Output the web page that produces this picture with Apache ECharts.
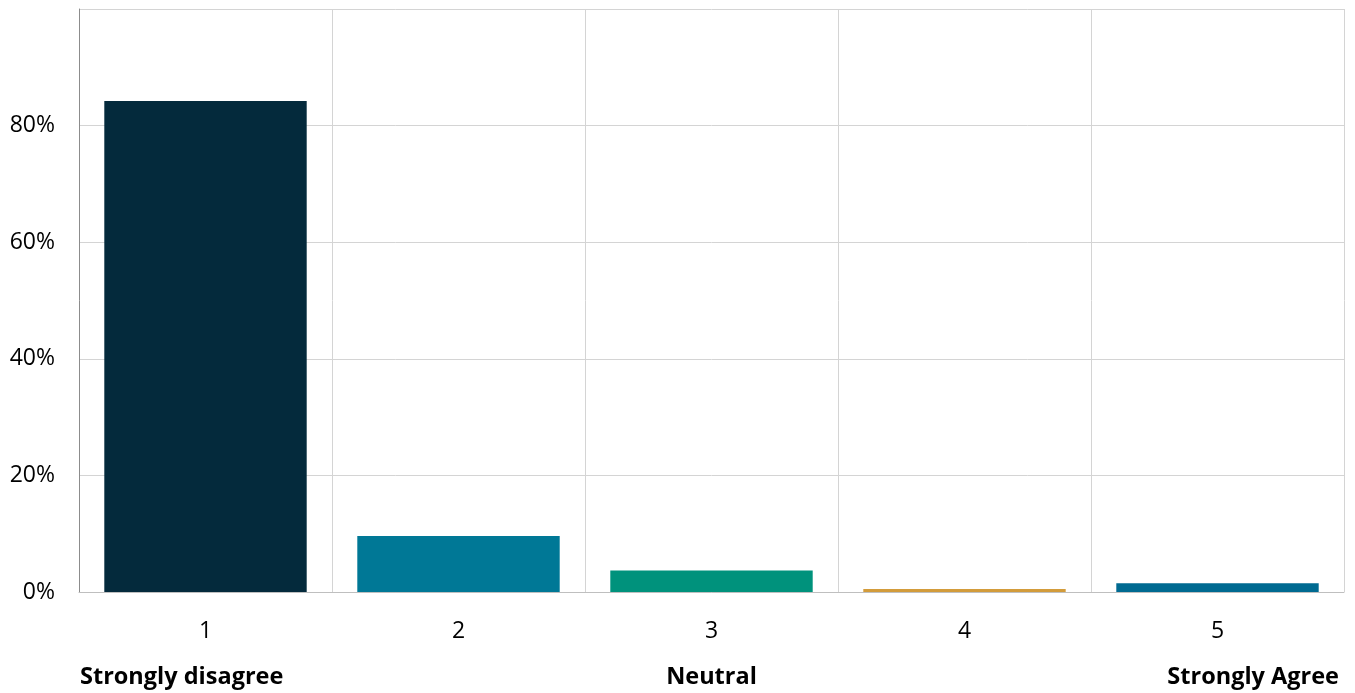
<!DOCTYPE html>
<html>
<head>
<meta charset="utf-8">
<script src="https://cdn.jsdelivr.net/npm/echarts@6/dist/echarts.min.js"></script>
<style>
html,body{margin:0;padding:0;background:#fff;}
#chart{width:1355px;height:693px;}
</style>
</head>
<body>
<div id="chart"></div>
<script>
const categories = ['1', '2', '3', '4', '5'];
const values = [84.2, 9.6, 3.7, 0.5, 1.5];
const barColors = ['#042A3C', '#007896', '#00927C', '#D39C3B', '#006A91'];
const yTicks = [0, 20, 40, 60, 80, 100];
const scaleLabels = ['Strongly disagree', 'Neutral', 'Strongly Agree'];

const FONT = '"Open Sans", "Noto Sans", sans-serif';
const chart = echarts.init(document.getElementById('chart'));
chart.setOption({
  animation: false,
  grid: { left: 79, right: 11, top: 9, bottom: 101, containLabel: false },
  xAxis: {
    type: 'category',
    data: categories,
    boundaryGap: true,
    axisLine: { show: true, lineStyle: { color: '#BFBFBF', width: 1 } },
    axisTick: { show: false },
    splitLine: { show: true, lineStyle: { color: '#D4D4D4', width: 1 } },
    axisLabel: { color: '#000', fontSize: 23, fontFamily: FONT, margin: 28 }
  },
  yAxis: {
    type: 'value',
    min: yTicks[0],
    max: yTicks[yTicks.length - 1],
    interval: 20,
    axisLine: { show: true, lineStyle: { color: '#8C8C8C', width: 1 } },
    axisTick: { show: false },
    splitLine: { show: true, lineStyle: { color: '#D4D4D4', width: 1 } },
    axisLabel: {
      color: '#000', fontSize: 23, fontFamily: FONT, margin: 24,
      showMaxLabel: false,
      formatter: v => v + '%'
    }
  },
  series: [{
    type: 'bar',
    data: values.map((v, i) => ({ value: v, itemStyle: { color: barColors[i] } })),
    barCategoryGap: '20%'
  }]
});
const midX = chart.convertToPixel({ xAxisIndex: 0 }, categories[2]);
const textStyle = { font: 'bold 23.5px ' + FONT, fill: '#000' };
chart.setOption({
  graphic: [
    { type: 'text', left: 80, top: 665, style: Object.assign({ text: scaleLabels[0] }, textStyle) },
    { type: 'text', x: midX, y: 665, style: Object.assign({ text: scaleLabels[1], align: 'center' }, textStyle) },
    { type: 'text', right: 16, top: 665, style: Object.assign({ text: scaleLabels[2] }, textStyle) }
  ]
});
</script>
</body>
</html>
